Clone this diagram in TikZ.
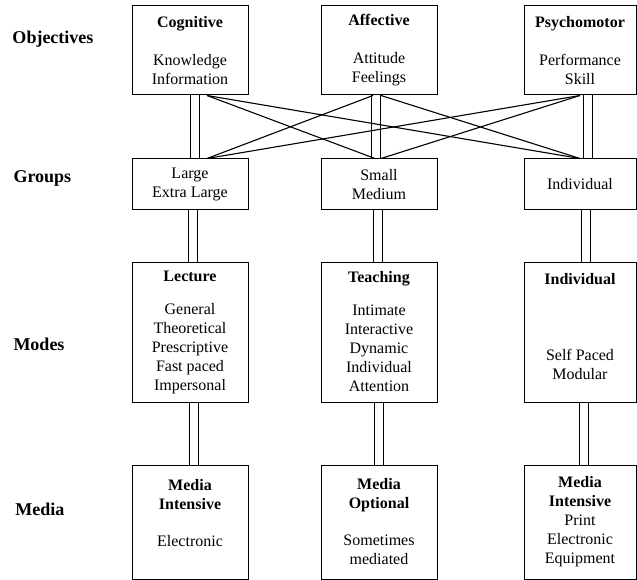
\documentclass[tikz,border=0pt]{standalone}
\usepackage{fontspec}
\setmainfont{Liberation Serif}
\begin{document}
\begin{tikzpicture}[x=1pt, y=-1pt, every node/.style={draw, line width=1pt,
    inner sep=0pt, align=center, minimum width=116pt,
    font=\fontsize{16}{19}\selectfont},
    level/.style={draw=none, minimum width=0pt, anchor=base west,
    font=\fontsize{18}{21}\selectfont\bfseries},
    link/.style={line width=1.1pt},
    dbl/.style={double, double distance=8.5pt, line width=0.9pt}]

    \useasboundingbox (0,0) rectangle (637,580);

    % Levels
    \node[level] (objectives) at (12,44) {Objectives};
    \node[level] (groups) at (13,183) {Groups};
    \node[level] (modes) at (13,350) {Modes};
    \node[level] (media) at (15,515) {Media};

    % Nodes
    \node[minimum height=89pt] (cognitive) at (190,50.5) {\textbf{Cognitive}\\[19pt]Knowledge\\Information};
    \node[minimum height=89pt] (affective) at (379,50.5) {\textbf{Affective}\\[19pt]Attitude\\Feelings};
    \node[minimum height=89pt, minimum width=112pt] (psychomotor) at (580,50.5) {\textbf{Psychomotor}\\[19pt]Performance\\Skill};

    \node[minimum height=51pt] (large) at (190,184.5) {Large\\Extra Large};
    \node[minimum height=51pt] (small) at (379,184.5) {Small\\Medium};
    \node[minimum height=51pt, minimum width=112pt] (individual) at (580,184.5) {Individual};

    \node[minimum height=140pt] (lecture) at (190,332) {\textbf{Lecture}\\[14pt]General\\Theoretical\\Prescriptive\\Fast paced\\Impersonal};
    \node[minimum height=140pt] (teaching) at (379,332) {\textbf{Teaching}\\[14pt]Intimate\\Interactive\\Dynamic\\Individual\\Attention};
    \node[minimum height=140pt, minimum width=112pt] (selfpaced) at (580,332) {\textbf{Individual}\\[57pt]Self Paced\\Modular\\[-8pt]\mbox{}};

    \node[minimum height=114pt] (electronic) at (190,522) {\textbf{Media}\\\textbf{Intensive}\\[18pt]Electronic\\\mbox{}};
    \node[minimum height=114pt] (optional) at (379,522) {\textbf{Media}\\\textbf{Optional}\\[18pt]Sometimes\\mediated};
    \node[minimum height=114pt, minimum width=112pt] (equipment) at (580,522) {\textbf{Media}\\\textbf{Intensive}\\Print\\Electronic\\Equipment};

    % Lines
    \draw[dbl] ([xshift=5pt]cognitive.south) -- ([xshift=5pt]large.north);
    \draw[dbl] ([xshift=-3pt]affective.south) -- ([xshift=-3pt]small.north);
    \draw[dbl] ([xshift=8pt]psychomotor.south) -- ([xshift=8pt]individual.north);

    \draw[dbl] ([xshift=3pt]large.south) -- ([xshift=3pt]lecture.north);
    \draw[dbl] ([xshift=-1pt]small.south) -- ([xshift=-1pt]teaching.north);
    \draw[dbl] ([xshift=6pt]individual.south) -- ([xshift=6pt]selfpaced.north);

    \draw[dbl] ([xshift=4pt]lecture.south) -- ([xshift=4pt]electronic.north);
    \draw[dbl] (teaching.south) -- (optional.north);
    \draw[dbl] ([xshift=4pt]selfpaced.south) -- ([xshift=4pt]equipment.north);

    \draw[link] ([xshift=17pt]cognitive.south) -- ([xshift=-4pt]small.north);
    \draw[link] ([xshift=17pt]cognitive.south) -- (individual.north);
    \draw[link] ([xshift=-6pt]affective.south) -- ([xshift=17pt]large.north);
    \draw[link] ([xshift=2pt]affective.south) -- (individual.north);
    \draw[link] (psychomotor.south) -- ([xshift=17pt]large.north);
    \draw[link] (psychomotor.south) -- ([xshift=2pt]small.north);

\end{tikzpicture}
\end{document}
